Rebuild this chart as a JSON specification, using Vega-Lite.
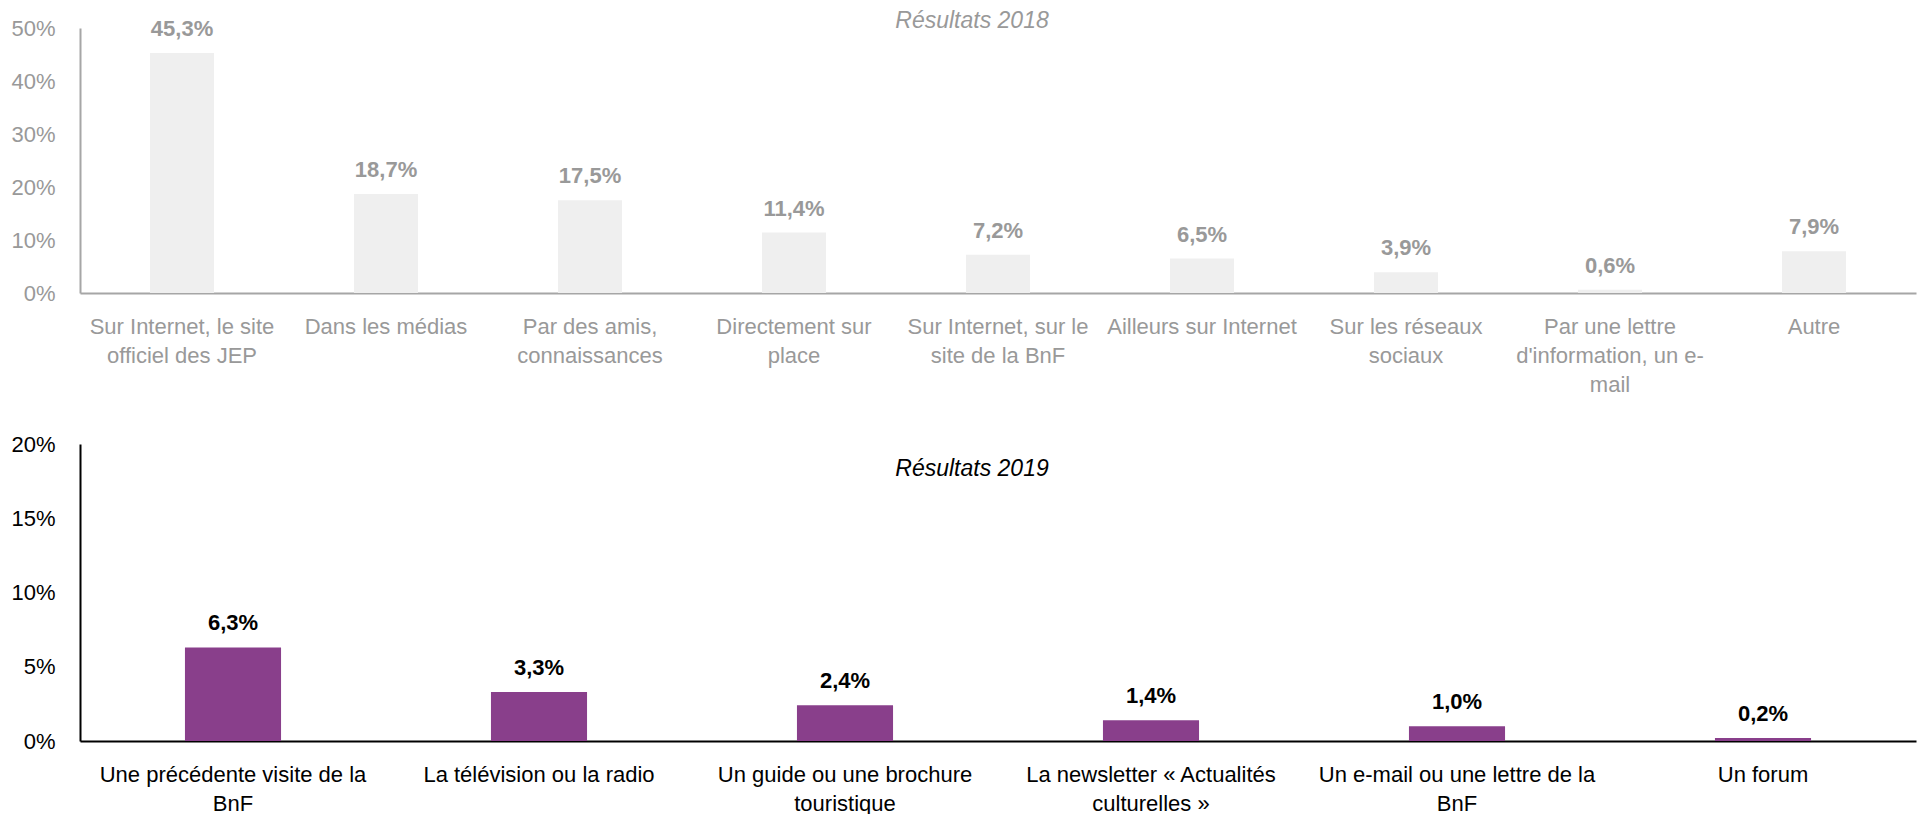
{
  "$schema": "https://vega.github.io/schema/vega-lite/v6.json",
  "padding": {"left": 10, "top": 10, "right": 4, "bottom": 0},
  "bounds": "flush",
  "spacing": 151,
  "config": {
    "view": {"stroke": null},
    "font": "Liberation Sans",
    "locale": {"number": {"decimal": ",", "thousands": " ", "grouping": [3], "currency": ["", " €"]}},
    "axis": {"grid": false, "ticks": false, "tickSize": 0, "labelFontSize": 22, "labelFont": "Liberation Sans", "title": null, "domainWidth": 2}
  },
  "datasets": {
    "r2018": [
      {"source": "Sur Internet, le site|officiel des JEP", "pct": 0.453},
      {"source": "Dans les médias", "pct": 0.187},
      {"source": "Par des amis,|connaissances", "pct": 0.175},
      {"source": "Directement sur|place", "pct": 0.114},
      {"source": "Sur Internet, sur le|site de la BnF", "pct": 0.072},
      {"source": "Ailleurs sur Internet", "pct": 0.065},
      {"source": "Sur les réseaux|sociaux", "pct": 0.039},
      {"source": "Par une lettre|d'information, un e-|mail", "pct": 0.006},
      {"source": "Autre", "pct": 0.079}
    ],
    "r2019": [
      {"source": "Une précédente visite de la|BnF", "pct": 0.063},
      {"source": "La télévision ou la radio", "pct": 0.033},
      {"source": "Un guide ou une brochure|touristique", "pct": 0.024},
      {"source": "La newsletter « Actualités|culturelles »", "pct": 0.014},
      {"source": "Un e-mail ou une lettre de la|BnF", "pct": 0.010},
      {"source": "Un forum", "pct": 0.002}
    ]
  },
  "vconcat": [
    {
      "width": 1836,
      "height": 265,
      "data": {"name": "r2018"},
      "title": {"text": "Résultats 2018", "font": "Liberation Sans", "fontStyle": "italic", "fontWeight": "normal", "fontSize": 23, "color": "#999999", "anchor": "middle", "frame": "group", "dx": -26, "baseline": "alphabetic", "offset": -34},
      "encoding": {
        "x": {"field": "source", "type": "nominal", "sort": null,
          "scale": {"paddingInner": 0.686, "paddingOuter": 0.343},
          "axis": {"labelAngle": 0, "labelExpr": "split(datum.label, '|')", "labelLimit": 0, "labelOverlap": false, "labelPadding": 23, "labelLineHeight": 29, "labelColor": "#999999", "domainColor": "#a6a6a6", "labelBaseline": "top"}},
        "y": {"field": "pct", "type": "quantitative", "scale": {"domain": [0, 0.5]},
          "axis": {"values": [0, 0.1, 0.2, 0.3, 0.4, 0.5], "format": ".0%", "labelColor": "#999999", "domainColor": "#a6a6a6", "labelPadding": 25}}
      },
      "layer": [
        {"mark": {"type": "bar", "color": "#efefef"}},
        {"mark": {"type": "text", "dy": -17, "baseline": "alphabetic", "fontWeight": "bold", "fontSize": 22, "color": "#999999"},
          "encoding": {"text": {"field": "pct", "type": "quantitative", "format": ".1%"}}}
      ]
    },
    {
      "width": 1836,
      "height": 297,
      "data": {"name": "r2019"},
      "title": {"text": "Résultats 2019", "font": "Liberation Sans", "fontStyle": "italic", "fontWeight": "normal", "fontSize": 23, "color": "#000000", "anchor": "middle", "frame": "group", "dx": -26, "baseline": "alphabetic", "offset": -66},
      "encoding": {
        "x": {"field": "source", "type": "nominal", "sort": null,
          "scale": {"paddingInner": 0.686, "paddingOuter": 0.343},
          "axis": {"labelAngle": 0, "labelExpr": "split(datum.label, '|')", "labelLimit": 0, "labelOverlap": false, "labelPadding": 23, "labelLineHeight": 29, "labelColor": "#000000", "domainColor": "#000000", "labelBaseline": "top"}},
        "y": {"field": "pct", "type": "quantitative", "scale": {"domain": [0, 0.2]},
          "axis": {"values": [0, 0.05, 0.1, 0.15, 0.2], "format": ".0%", "labelColor": "#000000", "domainColor": "#000000", "labelPadding": 25}}
      },
      "layer": [
        {"mark": {"type": "bar", "color": "#893f8b"}},
        {"mark": {"type": "text", "dy": -17, "baseline": "alphabetic", "fontWeight": "bold", "fontSize": 22, "color": "#000000"},
          "encoding": {"text": {"field": "pct", "type": "quantitative", "format": ".1%"}}}
      ]
    }
  ]
}
